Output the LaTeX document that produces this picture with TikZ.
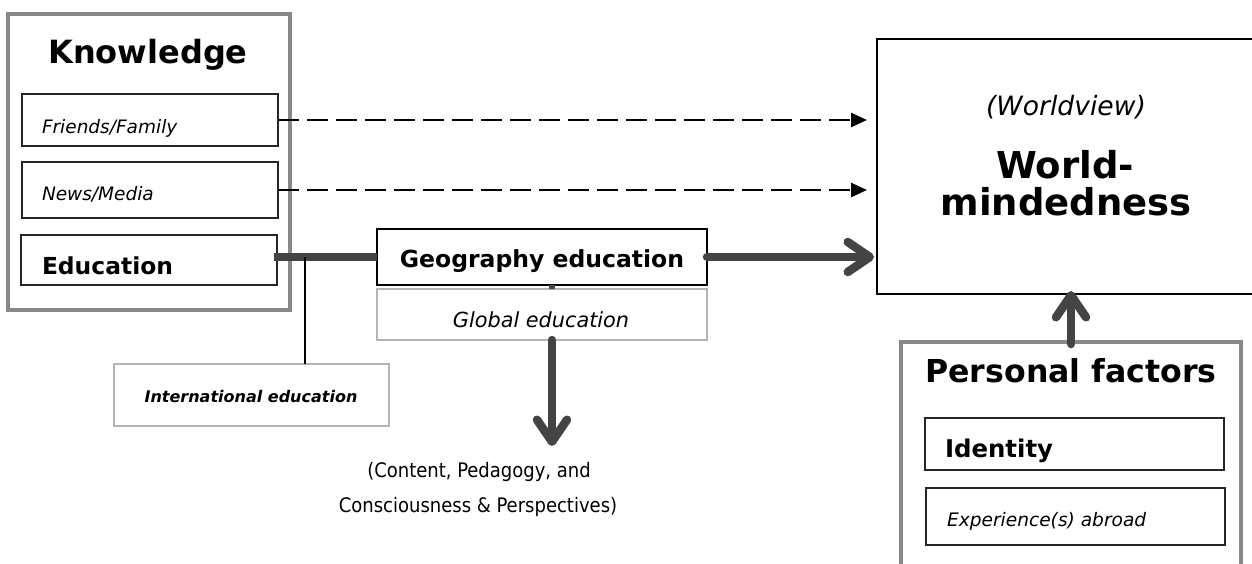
\documentclass[tikz,border=0pt]{standalone}
\usepackage{fontspec}
\setmainfont{DejaVu Sans}
\newfontfamily\condfont{DejaVu Sans Condensed}
\usetikzlibrary{arrows.meta}
\definecolor{darkarrow}{HTML}{444444}
\definecolor{framegray}{HTML}{888888}
\definecolor{lightframe}{HTML}{B4B4B4}
\newcommand{\fs}[1]{\fontsize{#1}{#1}\selectfont}
\begin{document}
\begin{tikzpicture}[x=1pt,y=-1pt,
  boxbase/.style={rectangle, anchor=north west, inner sep=0pt, outer sep=0pt},
  innerbox/.style={boxbase, draw=black!85, line width=1.3pt},
  groupbox/.style={boxbase, draw=framegray, line width=4pt},
  softbox/.style={boxbase, draw=lightframe, line width=1.5pt},
  txt/.style={inner sep=0pt, outer sep=0pt},
  dasharrow/.style={line width=2.6pt, dash pattern=on 21pt off 8pt, -{Triangle[length=16pt,width=14pt]}},
  thickline/.style={draw=darkarrow, line width=8.5pt},
  thickarrow/.style={thickline, -{Straight Barb[length=22pt,width=30pt,round]}, line cap=round}
]
\useasboundingbox (0,0) rectangle (1252,563);
\clip (0,0) rectangle (1252,563);
\fill[white] (0,0) rectangle (1252,563);

% Knowledge group
\node[groupbox, minimum width=282pt, minimum height=296pt] (know) at (8,14) {};
\node[txt, anchor=base] (knowt) at (148,63) {\fs{32}\bfseries Knowledge};
\node[innerbox, minimum width=256pt, minimum height=52pt] (ff) at (22,94) {};
\node[txt, anchor=base west] (fft) at (42,133) {\fs{18.5}\itshape Friends/Family};
\node[innerbox, minimum width=256pt, minimum height=56pt] (nm) at (22,162) {};
\node[txt, anchor=base west] (nmt) at (42,200) {\fs{18.5}\itshape News/Media};
\node[innerbox, minimum width=256pt, minimum height=50pt] (edu) at (21,235) {};
\node[txt, anchor=base west] (edut) at (42,274) {\fs{23.4}\bfseries Education};

% Geography / Global
\node[innerbox, draw=black, line width=1.6pt, minimum width=330pt, minimum height=56pt] (geo) at (377,229) {};
\node[txt, anchor=base] (geot) at (542,267) {\fs{23.5}\bfseries Geography education};
\node[softbox, minimum width=330pt, minimum height=51pt] (glob) at (377,289) {};
\node[txt, anchor=base] (globt) at (541,327) {\fs{20.8}\itshape Global education};

% International education
\node[softbox, minimum width=275pt, minimum height=62pt] (intl) at (114,364) {};
\node[txt, anchor=base] (intlt) at (251,402) {\fs{16}\bfseries\itshape International education};

% Worldmindedness
\node[innerbox, draw=black, line width=2pt, minimum width=400pt, minimum height=255pt] (wm) at (877,39) {};
\node[txt, anchor=base] (wv) at (1066,115) {\fs{26.6}\itshape (Worldview)};
\node[txt, anchor=base] (wm1) at (1065,178) {\fs{37}\bfseries World-};
\node[txt, anchor=base] (wm2) at (1066,215) {\fs{37}\bfseries mindedness};

% Personal factors
\node[groupbox, minimum width=340pt, minimum height=260pt] (pf) at (901,342) {};
\node[txt, anchor=base] (pft) at (1071,382) {\fs{31.6}\bfseries Personal factors};
\node[innerbox, minimum width=299pt, minimum height=52pt] (id) at (925,418) {};
\node[txt, anchor=base west] (idt) at (945,457) {\fs{24.4}\bfseries Identity};
\node[innerbox, minimum width=299pt, minimum height=57pt] (exp) at (926,488) {};
\node[txt, anchor=base west] (expt) at (947,526) {\fs{18.6}\itshape Experience(s) abroad};

% Bottom caption
\node[txt, anchor=base] (cap1) at (479,477) {\condfont\fs{20}(Content, Pedagogy, and};
\node[txt, anchor=base] (cap2) at (478,512) {\condfont\fs{20}Consciousness \& Perspectives)};

% Connectors
\draw[dasharrow] (ff.east) -- ([xshift=-10pt]wm.west |- ff.east);
\draw[dasharrow] (nm.east) -- ([xshift=-10pt]wm.west |- nm.east);

\coordinate (eduout) at ([xshift=-3pt]edu.east |- geo.west);
\coordinate (junction) at (305,257);
\draw[thickline] (eduout) -- (geo.west);
\draw[black, line width=2pt] (junction) -- (junction |- intl.north);
\draw[thickarrow] (geo.east) -- ([xshift=-3pt]wm.west |- geo.east);

\coordinate (geodrop) at ([xshift=10pt]geo.south);
\draw[draw=darkarrow, line width=6pt] (geodrop) -- (geodrop |- glob.north);
\coordinate (globdrop) at ([xshift=10pt]glob.south);
\coordinate (captop) at (552,446);
\draw[thickarrow] (globdrop) -- (captop);

\draw[thickarrow] ([yshift=-2pt]pf.north) -- ([yshift=3pt]pf.north |- wm.south);
\end{tikzpicture}
\end{document}
